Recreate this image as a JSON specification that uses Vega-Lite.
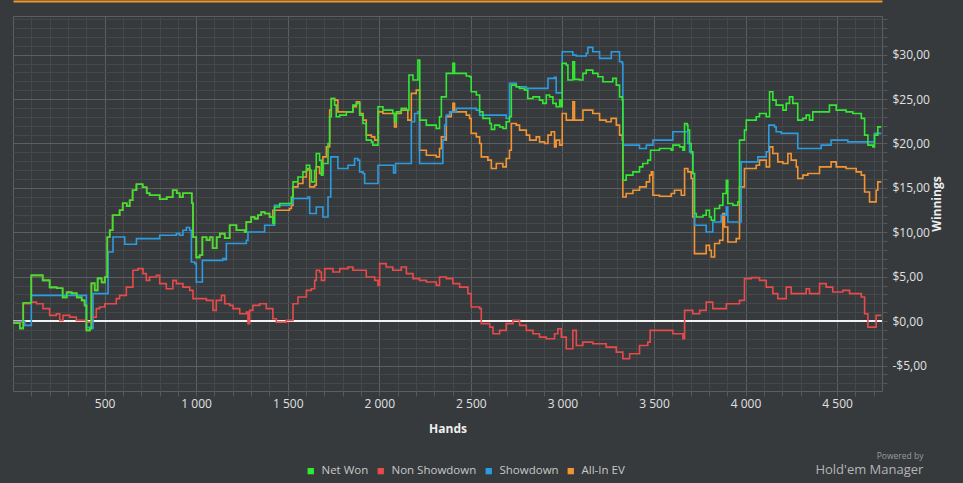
{
  "$schema": "https://vega.github.io/schema/vega-lite/v6.json",
  "description": "Winnings over hands",
  "autosize": {"type": "none"},
  "padding": {"left": 13, "top": 16, "right": 81, "bottom": 92},
  "width": 869,
  "height": 375,
  "background": "#363a3d",
  "title": {
    "text": "Powered by",
    "subtitle": "Hold'em Manager",
    "orient": "bottom",
    "anchor": "end",
    "fontSize": 8.5,
    "fontWeight": "normal",
    "color": "#9a9a9a",
    "subtitleFontSize": 13,
    "subtitleColor": "#b5b5b5",
    "subtitlePadding": 3,
    "dx": -19,
    "offset": -25
  },
  "datasets": {
    "net": [
      {"h":0,"v":-0.23},{"h":37,"v":-0.82},{"h":53,"v":-0.82},{"h":56,"v":2.03},{"h":97,"v":2.03},{"h":100,"v":5.15},{"h":129,"v":5.15},{"h":162,"v":4.59},{"h":200,"v":3.80},{"h":239,"v":3.69},{"h":271,"v":2.67},{"h":293,"v":3.23},{"h":320,"v":3.12},{"h":348,"v":2.67},{"h":375,"v":2.33},{"h":391,"v":1.77},{"h":400,"v":1.77},{"h":401,"v":-1.05},{"h":419,"v":-0.82},{"h":428,"v":4.25},{"h":446,"v":3.46},{"h":462,"v":4.81},{"h":484,"v":4.36},{"h":501,"v":4.93},{"h":515,"v":9.44},{"h":528,"v":10.23},{"h":544,"v":11.92},{"h":582,"v":12.48},{"h":599,"v":13.27},{"h":621,"v":12.93},{"h":637,"v":13.61},{"h":653,"v":14.74},{"h":674,"v":15.41},{"h":708,"v":15.07},{"h":730,"v":14.40},{"h":746,"v":14.17},{"h":785,"v":14.17},{"h":801,"v":13.72},{"h":839,"v":13.95},{"h":872,"v":14.74},{"h":894,"v":14.40},{"h":910,"v":13.95},{"h":927,"v":14.40},{"h":965,"v":14.40},{"h":976,"v":13.27},{"h":983,"v":9.44},{"h":1001,"v":7.18},{"h":1019,"v":7.41},{"h":1034,"v":9.44},{"h":1057,"v":9.10},{"h":1074,"v":9.44},{"h":1090,"v":8.20},{"h":1112,"v":9.44},{"h":1129,"v":9.85},{"h":1156,"v":9.32},{"h":1183,"v":10.79},{"h":1220,"v":10.23},{"h":1265,"v":10.03},{"h":1274,"v":11.16},{"h":1301,"v":11.72},{"h":1319,"v":11.54},{"h":1337,"v":11.92},{"h":1356,"v":12.29},{"h":1374,"v":12.11},{"h":1401,"v":11.72},
      {"h":1419,"v":10.98},{"h":1428,"v":12.85},{"h":1456,"v":13.24},{"h":1510,"v":13.24},{"h":1520,"v":13.98},{"h":1529,"v":15.67},{"h":1556,"v":16.23},{"h":1583,"v":16.80},{"h":1602,"v":17.55},{"h":1620,"v":16.99},{"h":1629,"v":15.67},{"h":1647,"v":16.99},{"h":1656,"v":18.87},{"h":1674,"v":18.09},{"h":1684,"v":16.43},{"h":1692,"v":17.75},{"h":1711,"v":17.75},{"h":1720,"v":20.00},{"h":1729,"v":23.00},{"h":1738,"v":25.07},{"h":1756,"v":24.32},{"h":1765,"v":23.00},{"h":1784,"v":23.19},{"h":1820,"v":23.56},{"h":1856,"v":24.32},{"h":1875,"v":24.51},{"h":1893,"v":23.19},{"h":1911,"v":22.25},{"h":1929,"v":20.37},{"h":1957,"v":20.18},{"h":1965,"v":19.81},{"h":1984,"v":19.81},{"h":1993,"v":24.13},{"h":2020,"v":23.75},{"h":2056,"v":23.75},{"h":2074,"v":23.38},{"h":2083,"v":22.44},{"h":2093,"v":23.56},{"h":2120,"v":23.95},{"h":2148,"v":23.75},{"h":2162,"v":27.70},{"h":2184,"v":27.14},{"h":2202,"v":27.14},{"h":2211,"v":29.39},{"h":2220,"v":29.39},{"h":2221,"v":22.63},{"h":2257,"v":22.06},{"h":2311,"v":21.69},{"h":2329,"v":23.00},{"h":2339,"v":25.25},{"h":2366,"v":27.89},{"h":2402,"v":29.02},{"h":2411,"v":27.89},{"h":2439,"v":27.89},{"h":2475,"v":27.59},{"h":2493,"v":27.51},{"h":2502,"v":25.82},{"h":2530,"v":25.45},{"h":2548,"v":23.56},{"h":2566,"v":22.82},{"h":2603,"v":22.25},{"h":2612,"v":21.58},{"h":2630,"v":22.06},{"h":2657,"v":21.87},{"h":2675,"v":21.69},{"h":2693,"v":22.44},{"h":2711,"v":23.00},{"h":2721,"v":26.57},{"h":2748,"v":26.38},{"h":2766,"v":26.20},{"h":2793,"v":26.01},{"h":2811,"v":25.07},{"h":2839,"v":25.25},{"h":2875,"v":24.88},{"h":2893,"v":24.51},{"h":2912,"v":25.45},{"h":2930,"v":25.25},{"h":2948,"v":24.51},{"h":2966,"v":24.13},{"h":2985,"v":24.88},{"h":2994,"v":24.13},{"h":2999,"v":29.02},{"h":3021,"v":28.83},{"h":3030,"v":27.14},{"h":3057,"v":29.20},{"h":3066,"v":27.22},{"h":3094,"v":27.14},{"h":3112,"v":27.89},{"h":3130,"v":28.26},{"h":3166,"v":27.89},{"h":3194,"v":27.51},{"h":3221,"v":26.94},{"h":3257,"v":26.94},{"h":3275,"v":27.33},{"h":3294,"v":26.57},{"h":3312,"v":25.25},{"h":3327,"v":24.88},{"h":3330,"v":15.86},{"h":3348,"v":16.43},{"h":3385,"v":16.80},{"h":3421,"v":17.36},{"h":3439,"v":17.75},{"h":3466,"v":18.12},{"h":3481,"v":19.24},{"h":3503,"v":19.24},{"h":3530,"v":19.44},{"h":3594,"v":19.24},{"h":3603,"v":19.81},{"h":3640,"v":19.62},{"h":3658,"v":19.24},{"h":3667,"v":22.25},{"h":3681,"v":22.06},{"h":3685,"v":21.50},{"h":3694,"v":20.00},{"h":3703,"v":19.05},{"h":3712,"v":16.62},{"h":3721,"v":12.11},{"h":3731,"v":11.72},{"h":3767,"v":11.92},{"h":3785,"v":12.48},{"h":3803,"v":11.72},{"h":3813,"v":11.35},{"h":3831,"v":12.67},{"h":3858,"v":13.04},{"h":3876,"v":14.36},{"h":3895,"v":15.86},{"h":3903,"v":13.24},{"h":3931,"v":13.04},{"h":3958,"v":13.42},{"h":3967,"v":20.37},{"h":3994,"v":21.50},{"h":4004,"v":22.63},{"h":4058,"v":23.00},{"h":4076,"v":23.38},{"h":4113,"v":23.00},{"h":4131,"v":25.82},{"h":4149,"v":24.88},{"h":4167,"v":24.32},{"h":4204,"v":23.75},{"h":4222,"v":24.51},{"h":4240,"v":25.25},{"h":4258,"v":24.51},{"h":4285,"v":22.63},{"h":4313,"v":22.82},{"h":4331,"v":23.19},{"h":4349,"v":22.63},{"h":4367,"v":23.56},{"h":4404,"v":23.56},{"h":4458,"v":24.32},{"h":4495,"v":23.75},{"h":4549,"v":23.56},{"h":4586,"v":23.38},{"h":4632,"v":22.82},{"h":4650,"v":20.94},{"h":4668,"v":19.81},{"h":4695,"v":19.62},{"h":4704,"v":20.94},{"h":4722,"v":21.87},{"h":4741,"v":21.87}
    ],
    "sd": [
      {"h":0,"v":-0.03},{"h":53,"v":-0.03},{"h":64,"v":-0.48},{"h":91,"v":-0.48},{"h":100,"v":2.90},{"h":391,"v":2.90},{"h":401,"v":-0.71},{"h":428,"v":-0.82},{"h":437,"v":3.09},{"h":510,"v":3.09},{"h":519,"v":7.78},{"h":546,"v":9.47},{"h":600,"v":9.47},{"h":610,"v":8.65},{"h":655,"v":8.65},{"h":674,"v":9.29},{"h":783,"v":9.29},{"h":801,"v":9.66},{"h":892,"v":9.85},{"h":910,"v":9.66},{"h":928,"v":10.23},{"h":947,"v":10.53},{"h":965,"v":10.23},{"h":974,"v":6.65},{"h":992,"v":6.47},{"h":1001,"v":4.40},{"h":1028,"v":4.40},{"h":1034,"v":6.84},{"h":1146,"v":7.03},{"h":1156,"v":6.92},{"h":1165,"v":8.73},{"h":1274,"v":9.10},{"h":1283,"v":10.03},{"h":1365,"v":10.03},{"h":1374,"v":10.79},{"h":1419,"v":10.79},{"h":1428,"v":13.04},{"h":1510,"v":13.24},{"h":1529,"v":13.80},{"h":1610,"v":13.98},{"h":1620,"v":12.11},{"h":1647,"v":12.11},{"h":1656,"v":12.85},{"h":1684,"v":12.85},{"h":1692,"v":11.72},{"h":1711,"v":11.72},{"h":1720,"v":13.98},{"h":1735,"v":18.49},{"h":1756,"v":18.49},{"h":1774,"v":17.18},{"h":1820,"v":17.18},{"h":1829,"v":17.55},{"h":1856,"v":17.55},{"h":1865,"v":18.31},{"h":1883,"v":18.12},{"h":1893,"v":16.80},{"h":1911,"v":16.62},{"h":1920,"v":15.49},{"h":1984,"v":15.49},{"h":1993,"v":17.55},{"h":2074,"v":17.55},{"h":2078,"v":16.69},{"h":2089,"v":17.75},{"h":2166,"v":17.75},{"h":2175,"v":22.44},{"h":2193,"v":23.38},{"h":2211,"v":23.56},{"h":2220,"v":17.75},{"h":2339,"v":17.75},{"h":2347,"v":20.37},{"h":2357,"v":22.06},{"h":2366,"v":23.19},{"h":2384,"v":23.56},{"h":2420,"v":23.95},{"h":2493,"v":23.95},{"h":2530,"v":23.75},{"h":2548,"v":23.19},{"h":2693,"v":22.82},{"h":2711,"v":26.76},{"h":2748,"v":26.38},{"h":2803,"v":26.20},{"h":2903,"v":26.20},{"h":2921,"v":27.33},{"h":2957,"v":27.44},{"h":2966,"v":25.70},{"h":2994,"v":25.70},{"h":2999,"v":30.33},{"h":3039,"v":30.33},{"h":3057,"v":29.95},{"h":3076,"v":29.84},{"h":3130,"v":30.15},{"h":3139,"v":30.82},{"h":3157,"v":30.82},{"h":3166,"v":30.33},{"h":3194,"v":30.33},{"h":3203,"v":29.58},{"h":3266,"v":29.58},{"h":3267,"v":30.33},{"h":3294,"v":30.33},{"h":3312,"v":29.20},{"h":3327,"v":29.02},{"h":3330,"v":19.81},{"h":3412,"v":19.81},{"h":3421,"v":19.44},{"h":3448,"v":19.44},{"h":3458,"v":19.81},{"h":3485,"v":19.81},{"h":3494,"v":20.37},{"h":3594,"v":20.37},{"h":3603,"v":21.31},{"h":3676,"v":21.31},{"h":3685,"v":20.00},{"h":3694,"v":19.05},{"h":3703,"v":18.87},{"h":3712,"v":16.62},{"h":3721,"v":10.79},{"h":3767,"v":10.79},{"h":3785,"v":10.03},{"h":3813,"v":10.03},{"h":3821,"v":11.16},{"h":3858,"v":11.16},{"h":3867,"v":11.92},{"h":3895,"v":12.85},{"h":3903,"v":11.16},{"h":3967,"v":11.16},{"h":3976,"v":17.93},{"h":4058,"v":17.93},{"h":4067,"v":18.49},{"h":4113,"v":19.05},{"h":4127,"v":22.06},{"h":4158,"v":21.87},{"h":4167,"v":21.31},{"h":4195,"v":21.13},{"h":4277,"v":21.13},{"h":4285,"v":19.44},{"h":4404,"v":19.44},{"h":4413,"v":19.81},{"h":4458,"v":19.81},{"h":4467,"v":20.37},{"h":4549,"v":20.37},{"h":4558,"v":20.18},{"h":4695,"v":20.18},{"h":4704,"v":21.13},{"h":4741,"v":21.13}
    ],
    "ev": [
      {"h":0,"v":-0.23},{"h":37,"v":-0.82},{"h":53,"v":-0.82},{"h":56,"v":2.03},{"h":97,"v":2.03},{"h":100,"v":5.15},{"h":129,"v":5.15},{"h":162,"v":4.59},{"h":200,"v":3.80},{"h":239,"v":3.69},{"h":271,"v":2.67},{"h":293,"v":3.23},{"h":320,"v":3.12},{"h":348,"v":2.67},{"h":375,"v":2.33},{"h":391,"v":1.77},{"h":400,"v":1.77},{"h":401,"v":-1.05},{"h":419,"v":-0.82},{"h":428,"v":4.25},{"h":446,"v":3.46},{"h":462,"v":4.81},{"h":484,"v":4.36},{"h":501,"v":4.93},{"h":515,"v":9.44},{"h":528,"v":10.23},{"h":544,"v":11.92},{"h":582,"v":12.48},{"h":599,"v":13.27},{"h":621,"v":12.93},{"h":637,"v":13.61},{"h":653,"v":14.74},{"h":674,"v":15.41},{"h":708,"v":15.07},{"h":730,"v":14.40},{"h":746,"v":14.17},{"h":785,"v":14.17},{"h":801,"v":13.72},{"h":839,"v":13.95},{"h":872,"v":14.74},{"h":894,"v":14.40},{"h":910,"v":13.95},{"h":927,"v":14.40},{"h":965,"v":14.40},{"h":976,"v":13.27},{"h":983,"v":9.44},{"h":1001,"v":7.18},{"h":1019,"v":7.41},{"h":1034,"v":9.44},{"h":1057,"v":9.10},{"h":1074,"v":9.44},{"h":1090,"v":8.20},{"h":1112,"v":9.44},{"h":1129,"v":9.85},{"h":1156,"v":9.32},{"h":1183,"v":10.79},{"h":1220,"v":10.23},{"h":1265,"v":10.03},{"h":1274,"v":11.16},{"h":1301,"v":11.72},{"h":1319,"v":11.54},{"h":1337,"v":11.92},{"h":1356,"v":12.29},{"h":1374,"v":12.11},{"h":1401,"v":11.72},
      {"h":1419,"v":12.48},{"h":1510,"v":12.67},{"h":1520,"v":13.04},{"h":1529,"v":15.11},{"h":1556,"v":15.49},{"h":1583,"v":16.23},{"h":1602,"v":16.99},{"h":1610,"v":17.18},{"h":1620,"v":15.11},{"h":1647,"v":15.30},{"h":1656,"v":17.36},{"h":1674,"v":16.62},{"h":1692,"v":18.49},{"h":1711,"v":19.62},{"h":1729,"v":23.75},{"h":1738,"v":25.07},{"h":1756,"v":24.88},{"h":1774,"v":23.56},{"h":1820,"v":23.56},{"h":1856,"v":24.13},{"h":1875,"v":24.69},{"h":1893,"v":23.38},{"h":1911,"v":22.63},{"h":1929,"v":20.94},{"h":1957,"v":20.74},{"h":1975,"v":20.37},{"h":1993,"v":23.56},{"h":2020,"v":23.38},{"h":2074,"v":23.38},{"h":2083,"v":21.87},{"h":2093,"v":23.38},{"h":2120,"v":23.75},{"h":2156,"v":22.63},{"h":2175,"v":25.64},{"h":2202,"v":26.01},{"h":2211,"v":26.01},{"h":2220,"v":19.24},{"h":2257,"v":18.68},{"h":2311,"v":18.49},{"h":2329,"v":19.44},{"h":2339,"v":20.74},{"h":2357,"v":20.37},{"h":2366,"v":23.00},{"h":2393,"v":23.56},{"h":2402,"v":24.51},{"h":2411,"v":23.56},{"h":2439,"v":23.56},{"h":2475,"v":23.19},{"h":2493,"v":22.82},{"h":2502,"v":21.13},{"h":2530,"v":20.74},{"h":2548,"v":20.00},{"h":2557,"v":18.49},{"h":2593,"v":18.12},{"h":2612,"v":17.18},{"h":2639,"v":17.75},{"h":2675,"v":17.36},{"h":2693,"v":18.31},{"h":2711,"v":19.24},{"h":2721,"v":22.25},{"h":2748,"v":22.06},{"h":2766,"v":21.50},{"h":2803,"v":20.94},{"h":2821,"v":20.37},{"h":2857,"v":20.74},{"h":2875,"v":20.18},{"h":2903,"v":20.00},{"h":2921,"v":20.94},{"h":2939,"v":21.31},{"h":2957,"v":19.62},{"h":2966,"v":20.37},{"h":2985,"v":19.81},{"h":2999,"v":23.38},{"h":3021,"v":22.63},{"h":3057,"v":24.69},{"h":3066,"v":22.63},{"h":3094,"v":22.63},{"h":3112,"v":23.75},{"h":3139,"v":23.75},{"h":3166,"v":23.38},{"h":3203,"v":22.63},{"h":3239,"v":22.44},{"h":3266,"v":22.82},{"h":3294,"v":22.06},{"h":3312,"v":20.94},{"h":3327,"v":20.37},{"h":3330,"v":13.98},{"h":3348,"v":14.36},{"h":3385,"v":14.74},{"h":3421,"v":15.11},{"h":3458,"v":15.67},{"h":3476,"v":16.43},{"h":3485,"v":16.80},{"h":3494,"v":14.17},{"h":3530,"v":14.06},{"h":3594,"v":14.36},{"h":3612,"v":14.74},{"h":3649,"v":14.17},{"h":3667,"v":17.18},{"h":3685,"v":16.80},{"h":3703,"v":16.05},{"h":3712,"v":11.72},{"h":3721,"v":7.60},{"h":3767,"v":7.60},{"h":3785,"v":8.53},{"h":3803,"v":7.97},{"h":3813,"v":7.22},{"h":3831,"v":8.73},{"h":3858,"v":9.10},{"h":3876,"v":12.11},{"h":3885,"v":10.60},{"h":3903,"v":8.91},{"h":3949,"v":9.29},{"h":3967,"v":15.11},{"h":3994,"v":17.18},{"h":4058,"v":17.55},{"h":4076,"v":18.12},{"h":4113,"v":17.36},{"h":4131,"v":19.62},{"h":4149,"v":18.87},{"h":4176,"v":17.93},{"h":4204,"v":17.75},{"h":4231,"v":18.87},{"h":4249,"v":18.12},{"h":4277,"v":17.36},{"h":4285,"v":16.05},{"h":4313,"v":16.43},{"h":4340,"v":16.62},{"h":4367,"v":16.62},{"h":4404,"v":17.36},{"h":4467,"v":17.93},{"h":4495,"v":17.36},{"h":4549,"v":17.18},{"h":4604,"v":16.80},{"h":4632,"v":16.43},{"h":4650,"v":14.54},{"h":4677,"v":13.42},{"h":4704,"v":13.42},{"h":4713,"v":14.74},{"h":4722,"v":15.67},{"h":4741,"v":15.67}
    ],
    "nsd": [
      {"h":0,"v":-0.11},{"h":37,"v":-0.15},{"h":55,"v":1.96},{"h":100,"v":2.14},{"h":128,"v":1.96},{"h":164,"v":1.40},{"h":200,"v":0.64},{"h":237,"v":0.83},{"h":255,"v":0.08},{"h":273,"v":0.64},{"h":310,"v":0.45},{"h":346,"v":0.08},{"h":401,"v":-0.11},{"h":428,"v":0.45},{"h":455,"v":1.40},{"h":473,"v":1.58},{"h":501,"v":1.96},{"h":528,"v":1.96},{"h":564,"v":2.53},{"h":582,"v":2.90},{"h":619,"v":3.83},{"h":655,"v":5.72},{"h":682,"v":5.91},{"h":710,"v":5.34},{"h":728,"v":4.59},{"h":746,"v":4.96},{"h":783,"v":5.15},{"h":801,"v":4.22},{"h":837,"v":3.65},{"h":873,"v":4.59},{"h":892,"v":4.22},{"h":928,"v":3.83},{"h":965,"v":3.46},{"h":983,"v":2.53},{"h":1019,"v":2.53},{"h":1056,"v":2.33},{"h":1092,"v":1.21},{"h":1110,"v":2.33},{"h":1138,"v":2.90},{"h":1156,"v":1.96},{"h":1183,"v":1.77},{"h":1201,"v":1.40},{"h":1238,"v":0.83},{"h":1274,"v":1.01},{"h":1283,"v":-0.29},{"h":1292,"v":1.21},{"h":1310,"v":1.77},{"h":1347,"v":1.96},{"h":1383,"v":1.40},{"h":1419,"v":0.27},{"h":1438,"v":-0.11},{"h":1492,"v":0.08},{"h":1520,"v":0.08},{"h":1529,"v":1.96},{"h":1556,"v":2.71},{"h":1602,"v":3.46},{"h":1629,"v":3.65},{"h":1647,"v":4.59},{"h":1656,"v":5.72},{"h":1674,"v":5.52},{"h":1684,"v":4.59},{"h":1702,"v":5.91},{"h":1747,"v":5.52},{"h":1784,"v":5.91},{"h":1829,"v":6.09},{"h":1856,"v":5.72},{"h":1893,"v":5.72},{"h":1929,"v":4.96},{"h":1975,"v":4.59},{"h":1993,"v":4.02},{"h":2002,"v":6.47},{"h":2038,"v":6.09},{"h":2074,"v":5.72},{"h":2120,"v":6.09},{"h":2148,"v":5.34},{"h":2184,"v":4.78},{"h":2220,"v":4.59},{"h":2257,"v":4.40},{"h":2311,"v":4.02},{"h":2329,"v":4.96},{"h":2366,"v":4.78},{"h":2402,"v":4.22},{"h":2439,"v":3.83},{"h":2484,"v":3.09},{"h":2502,"v":1.58},{"h":2548,"v":1.40},{"h":2557,"v":-0.29},{"h":2603,"v":-0.68},{"h":2621,"v":-1.42},{"h":2657,"v":-1.05},{"h":2693,"v":-0.29},{"h":2730,"v":0.08},{"h":2766,"v":-0.48},{"h":2803,"v":-1.05},{"h":2839,"v":-1.42},{"h":2875,"v":-1.80},{"h":2912,"v":-1.98},{"h":2957,"v":-1.42},{"h":2975,"v":-0.86},{"h":2994,"v":-1.80},{"h":3021,"v":-3.11},{"h":3048,"v":-3.11},{"h":3057,"v":-1.05},{"h":3076,"v":-2.74},{"h":3112,"v":-2.37},{"h":3166,"v":-2.55},{"h":3239,"v":-2.93},{"h":3294,"v":-3.49},{"h":3330,"v":-4.24},{"h":3367,"v":-3.68},{"h":3421,"v":-2.74},{"h":3466,"v":-2.37},{"h":3479,"v":-1.05},{"h":3530,"v":-1.05},{"h":3603,"v":-1.42},{"h":3658,"v":-1.98},{"h":3667,"v":1.21},{"h":3712,"v":0.83},{"h":3749,"v":1.21},{"h":3785,"v":2.14},{"h":3821,"v":1.40},{"h":3895,"v":1.96},{"h":3967,"v":2.33},{"h":3994,"v":4.78},{"h":4031,"v":4.89},{"h":4076,"v":4.59},{"h":4113,"v":3.83},{"h":4149,"v":3.09},{"h":4176,"v":2.53},{"h":4222,"v":3.83},{"h":4249,"v":3.09},{"h":4285,"v":3.09},{"h":4331,"v":3.65},{"h":4349,"v":3.09},{"h":4404,"v":4.22},{"h":4440,"v":3.83},{"h":4476,"v":3.27},{"h":4531,"v":3.46},{"h":4568,"v":3.09},{"h":4632,"v":2.71},{"h":4650,"v":0.83},{"h":4668,"v":-0.68},{"h":4704,"v":-0.68},{"h":4713,"v":0.64},{"h":4741,"v":0.64}
    ]
  },
  "layer": [
    {
      "layer": [
        {
          "data": {"values": [{"zero": 0}]},
          "mark": {"type": "rule", "color": "#f2f2f2", "strokeWidth": 2},
          "encoding": {"y": {"field": "zero", "type": "quantitative"}}
        },
        {
          "data": {"name": "ev"},
          "mark": {"type": "line", "strokeWidth": 1.6, "interpolate": "step-after"},
          "encoding": {
            "x": {
              "field": "h",
              "type": "quantitative",
              "scale": {"domain": [0, 4745], "nice": false, "zero": false},
              "axis": {
                "title": "Hands",
                "values": [100,200,300,400,500,600,700,800,900,1000,1100,1200,1300,1400,1500,1600,1700,1800,1900,2000,2100,2200,2300,2400,2500,2600,2700,2800,2900,3000,3100,3200,3300,3400,3500,3600,3700,3800,3900,4000,4100,4200,4300,4400,4500,4600,4700],
                "tickCount": 200,
                "labelExpr": "datum.value % 500 === 0 ? replace(format(datum.value, ','), ',', ' ') : ''",
                "labelOverlap": false,
                "labelFlush": false,
                "domain": false,
                "gridColor": {"condition": {"test": "datum.value % 500 === 0", "value": "#5c5f62"}, "value": "#45484b"},
                "tickColor": "#55585b",
                "tickSize": 5,
                "labelPadding": 2,
                "titlePadding": 14
              }
            },
            "y": {
              "field": "v",
              "type": "quantitative",
              "scale": {"domain": [-7.87, 34.35], "nice": false, "zero": false},
              "axis": {
                "title": "Winnings",
                "orient": "right",
                "titleAngle": 270,
                "values": [-7,-6,-5,-4,-3,-2,-1,0,1,2,3,4,5,6,7,8,9,10,11,12,13,14,15,16,17,18,19,20,21,22,23,24,25,26,27,28,29,30,31,32,33,34],
                "tickCount": 200,
                "labelExpr": "datum.value % 5 === 0 ? (datum.value < 0 ? '-$' : '$') + replace(format(abs(datum.value), '.2f'), '.', ',') : ''",
                "labelOverlap": false,
                "labelFlush": false,
                "domain": false,
                "gridColor": {"condition": {"test": "datum.value % 5 === 0", "value": "#5c5f62"}, "value": "#45484b"},
                "tickColor": "#55585b",
                "tickSize": 5,
                "labelPadding": 5,
                "titlePadding": 14
              }
            },
            "color": {
              "datum": "All-In EV",
              "type": "nominal",
              "scale": {
                "domain": ["Net Won", "Non Showdown", "Showdown", "All-In EV"],
                "range": ["#33e833", "#e84a4a", "#2d9be0", "#f39433"]
              },
              "legend": {
                "title": null,
                "orient": "none",
                "direction": "horizontal",
                "legendX": 292,
                "legendY": 449,
                "symbolType": "square",
                "symbolSize": 40,
                "labelFontSize": 11.5,
                "labelColor": "#c8c8c8",
                "labelOffset": 5,
                "columnPadding": 6,
                "encode": {
                  "symbols": {
                    "update": {
                      "fill": {"scale": "color", "field": "value"},
                      "fillOpacity": {"value": 1},
                      "strokeWidth": {"value": 0}
                    }
                  }
                }
              }
            }
          }
        },
        {
          "data": {"name": "sd"},
          "mark": {"type": "line", "strokeWidth": 1.6, "interpolate": "step-after"},
          "encoding": {
            "x": {"field": "h", "type": "quantitative"},
            "y": {"field": "v", "type": "quantitative"},
            "color": {"datum": "Showdown", "type": "nominal"}
          }
        },
        {
          "data": {"name": "nsd"},
          "mark": {"type": "line", "strokeWidth": 1.6, "interpolate": "step-after"},
          "encoding": {
            "x": {"field": "h", "type": "quantitative"},
            "y": {"field": "v", "type": "quantitative"},
            "color": {"datum": "Non Showdown", "type": "nominal"}
          }
        }
      ]
    },
    {
      "data": {"name": "net"},
      "mark": {"type": "line", "strokeWidth": 1.6, "interpolate": "step-after"},
      "encoding": {
        "x": {
          "field": "h",
          "type": "quantitative",
          "axis": {
            "orient": "top",
            "offset": 15,
            "title": null,
            "grid": false,
            "ticks": false,
            "labels": false,
            "domainColor": "#f0952f",
            "domainWidth": 2
          }
        },
        "y": {"field": "v", "type": "quantitative"},
        "color": {"datum": "Net Won", "type": "nominal"}
      }
    }
  ],
  "resolve": {"axis": {"x": "independent"}},
  "config": {
    "font": "Open Sans",
    "view": {"stroke": "#5c5f62", "strokeWidth": 1},
    "axis": {
      "labelColor": "#e0e0e0",
      "labelFontSize": 12,
      "titleColor": "#eeeeee",
      "titleFontSize": 12,
      "titleFontWeight": "bold",
      "gridWidth": 1
    }
  }
}
